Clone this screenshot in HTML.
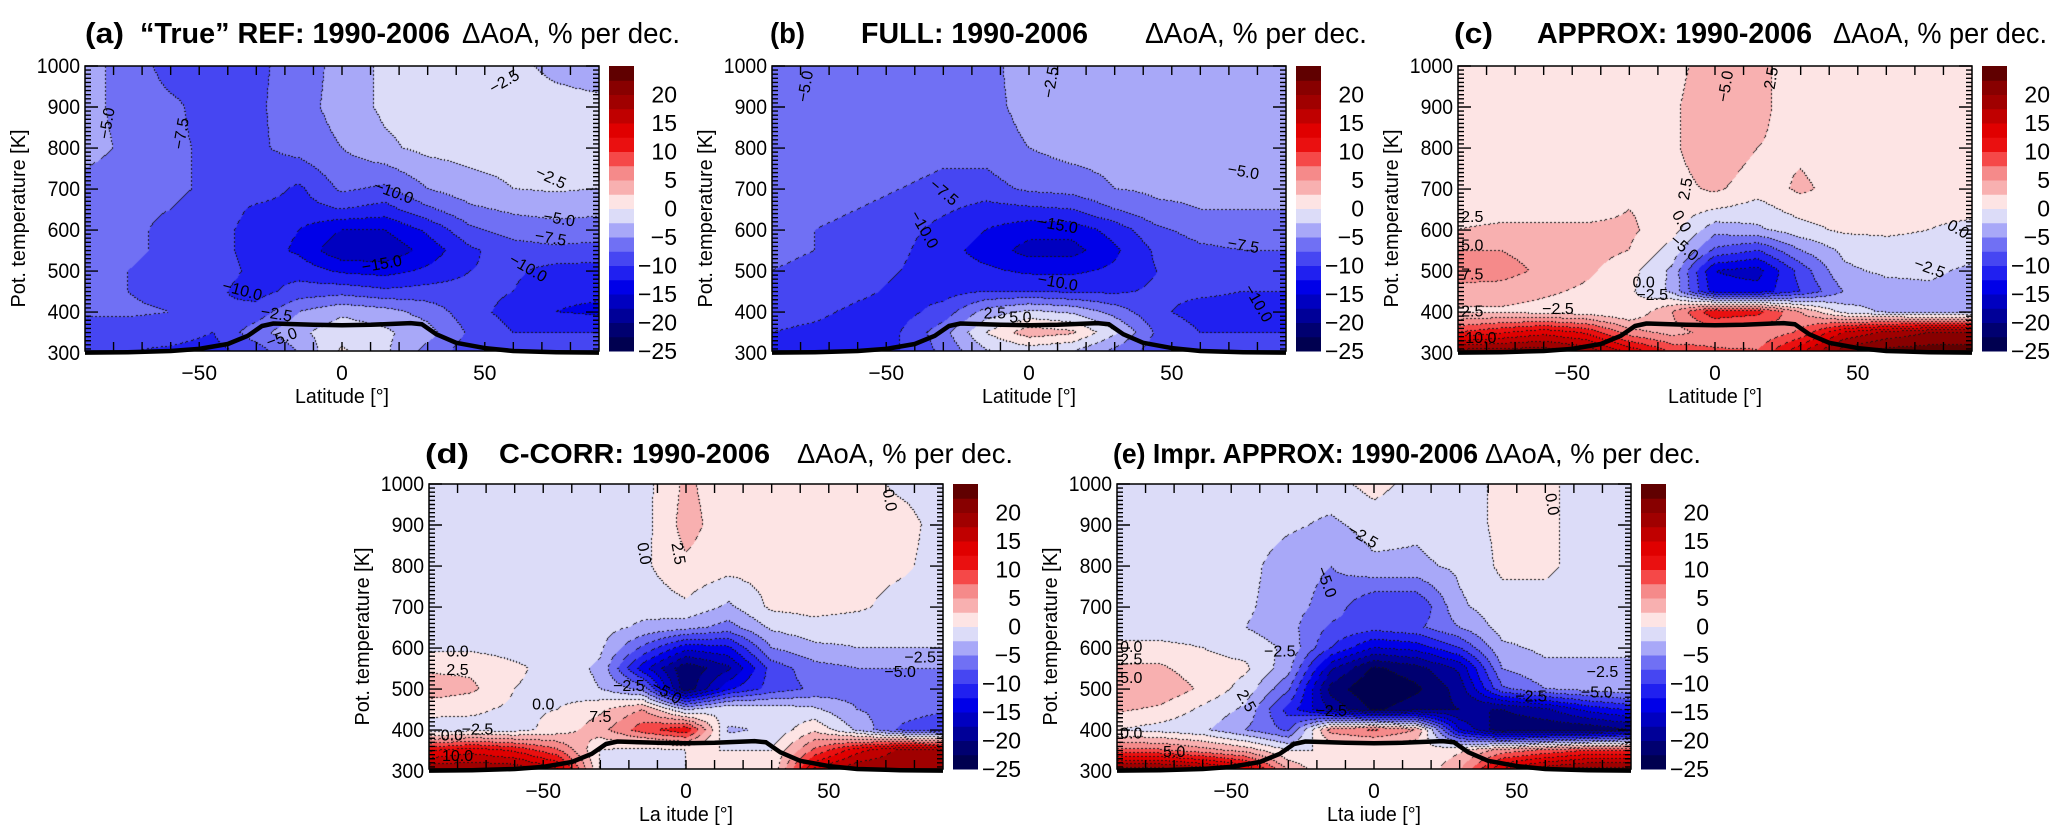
<!DOCTYPE html>
<html><head><meta charset="utf-8">
<style>
html,body{margin:0;padding:0;background:#fff;}
#wrap{position:relative;width:2067px;height:838px;overflow:hidden;background:#fff;}
canvas{position:absolute;}
svg{position:absolute;left:0;top:0;}
text{font-family:"Liberation Sans",Arial,sans-serif;fill:#000;}
</style></head>
<body>
<div id="wrap">
<svg id="ov" width="2067" height="838"></svg>
</div>
<script>
// ---------- data ----------
const lats=[-90,-75,-60,-45,-30,-15,0,15,30,45,60,75,90];
const thetas=[1000,900,800,700,650,600,550,500,450,400,350,300];
const valsA=[
[-4,-6,-8.5,-8.5,-8,-6.5,-4,-2,-1.5,-1.5,-2,-3,-3.5],
[-4,-6,-7,-8.5,-8,-6,-4,-2,-1.5,-1.5,-1.5,-1.8,-2],
[-4,-5.5,-7,-8,-8,-6.5,-5,-3,-1.8,-1.5,-1.5,-1.5,-1.5],
[-6,-6.5,-7,-8,-8.5,-10.5,-7,-8,-5,-3.5,-2.5,-2.2,-2.5],
[-6.5,-7,-7.5,-8.5,-10.5,-11,-10,-11,-8,-5.5,-4.5,-4,-4.5],
[-6.5,-7,-8,-9,-11,-12.5,-15,-15,-12,-8,-6.5,-6,-6],
[-7,-7,-8,-9,-11,-13,-17,-17,-14,-10.5,-8.5,-8,-8.5],
[-7,-7.5,-8.5,-9,-10.5,-11,-13,-13.5,-12,-10,-9.5,-11,-11],
[-7,-7.5,-8.5,-9.5,-11,-9,-8.5,-9.5,-9,-9,-10,-12,-12],
[-7,-7,-7.5,-10,-9,-5,-3,-4,-6,-9,-11,-12.5,-13],
[-9,-9,-9,-10,-6,-3,-1,-2,-4,-8,-10,-10,-10],
[-10,-10,-10.5,-11,-9,-5,0.5,-2,-6,-9,-10,-10,-10]];
const valsB=[
[-6,-5.5,-6,-6.5,-6.5,-6,-3.5,-3,-4,-4.5,-4.5,-4.5,-4.5],
[-6,-6,-6,-6.5,-6.5,-6,-4,-3,-4,-4.5,-4.5,-4.5,-4.5],
[-6,-6,-6.5,-6.5,-7,-6.5,-5,-4,-4,-4,-4.2,-4.5,-4.5],
[-6.5,-6.5,-7,-7.5,-8,-8.5,-7,-6.5,-5,-4.5,-4.5,-4.5,-4.5],
[-6.5,-7,-7.5,-8,-9.5,-11,-10.5,-10,-7.5,-5.5,-5,-5,-5],
[-7,-7.5,-8,-9,-11,-12.5,-14,-14,-11.5,-8,-6.5,-6,-6],
[-7,-7.5,-8.5,-9.5,-11.5,-13.5,-16,-16,-13,-9.5,-8,-7.5,-7.5],
[-7.5,-8,-9,-10,-11.5,-12,-13,-13,-12,-10,-9,-8,-8],
[-8,-8.5,-9.5,-10.5,-11,-10,-10,-10.5,-10.5,-9.5,-9.5,-10,-10],
[-9,-9.5,-10.5,-11,-9,-4,-2,-3,-6,-9.5,-11,-11,-11],
[-10,-10.5,-11,-10,-6,0,4,3,-2,-8,-10,-10,-10],
[-11,-11,-11,-10,-7,-3,-2,-3,-6,-9,-10,-10,-10]];
const valsC=[
[1,1,1,1,1.5,1.5,4,3,1.5,1,1,1,1],
[1,1,1,1,1.5,2,4.5,3,1.5,1,1,1,1],
[1,1,1,1,1.5,2,4.5,2.5,2,1,1,1,1],
[1,1,1,1,1.5,1.5,3,1,3,1.5,1,1,1],
[1.5,1.5,1.5,1.5,2.5,1.5,0,-1,1,1.5,1,0.5,0.5],
[2.5,3,3,3,3,1,-4,-3,-1,0.5,0.5,0,-0.5],
[5,5,4,3.5,2.5,-1,-8,-10,-5,-2,-1,-1,-1.5],
[6.5,6,4.5,3,1,-3,-15,-16,-9,-3,-2,-2,-3],
[4,4,3,2,0.5,-3,-14,-14,-10,-5,-3.5,-3,-3.5],
[2,2,1.5,1,0,5,12,11,5,-1,-3,-4,-4],
[10,12,14,12,6,4,6,5,8,15,18,20,20],
[22,22,22,20,15,10,8,8,15,22,24,24,24]];
const valsD=[
[-1,-1,-1,-1,-1,-1,3,1,1,1,1,-0.5,-1],
[-1,-1,-1,-1,-1,-1,3.5,1,1,1,1,1,-1],
[-1,-1,-1,-1,-1,-0.5,2,1,1,1,1,0.5,-1],
[-1,-1,-1,-1,-1,-1.5,-0.5,-3,0.5,1,0.5,-1,-1],
[-1,-1,-1,-1,-1.5,-3,-4,-6,-2,-1,-1.5,-1.5,-1.5],
[-0.5,-0.5,-1,-1,-2,-8,-14,-13,-5,-3,-2.5,-2.5,-2.5],
[2,2,0.5,-1,-3,-14,-22,-18,-9,-6,-5,-5,-5],
[4,3,0,-1,-2.5,-6,-22,-13,-9,-7,-6,-6,-6],
[1,0.5,-0.5,0,2,5,-3,0,-1,-2,-5,-6,-7],
[-1.5,-1,-1,1,4,9,12,-3,-2,2,-3,-8,-10],
[12,14,12,8,0,-1,0,0,0,8,14,18,18],
[20,20,20,16,0,0,0,0,0,16,20,20,20]];
const valsE=[
[-1,-1,-1,-1,-1.5,-1,1,-1,-1,0.5,0.5,-1,-1],
[-1,-1,-1,-1,-2,-3,-1.5,-2,-1,0.5,0.5,-1,-1],
[-1,-1,-1,-1.5,-4,-5,-3,-3,-2,0.5,0.5,-1,-1],
[-1,-1,-1,-2,-4,-6,-10,-10,-3,-1,-1,-1,-1],
[-1,-1,-1,-2.5,-4,-8,-9,-8,-5,-1.5,-1.5,-1,-1],
[0.5,0.5,0,-1,-3,-10,-15,-14,-10,-3,-2,-2,-2],
[3,3,1,0.5,-4,-17,-23,-21,-17,-5,-3,-3,-3],
[5,4.5,2,-1,-7,-21,-25,-23,-19,-8,-5,-4,-3],
[3,2,-0.5,-3,-11,-18,-23,-21,-20,-20,-18,-14,-12],
[0,-1,-2,-5,-8,6,8,5,-15,-22,-22,-22,-20],
[8,8,6,4,0,0,0,0,2,6,8,10,10],
[22,22,20,16,5,0,0,0,5,16,20,22,22]];
const tropLat=[-90,-75,-60,-50,-40,-33,-28,-24,-10,0,10,24,28,33,40,50,60,75,90];
const tropTheta=[301,302,305,310,322,342,366,372,369,368,369,373,370,346,325,312,305,302,301];
const levelColors=['#000050','#000070','#000098','#0000c0','#0000e8','#2020f0','#4646f2','#7070f4','#a8a8f8','#dcdcf8',
 '#fde4e4','#f8b0b0','#f58a8a','#f54848','#ea1010','#e00000','#c00000','#a00000','#880000','#600000'];
const cbTicks=[20,15,10,5,0,-5,-10,-15,-20,-25];
const yTicks=[300,400,500,600,700,800,900,1000];
const xTicks=[-50,0,50];
const labelsA=[["-5.0",-82,860,80],["-7.5",-56,835,80],["-2.5",57,960,30],["-10.0",18,690,-20],["-15.0",14,515,10],["-10.0",-35,450,-15],["-2.5",-23,393,-10],["-5.0",-21,335,20],["-2.5",73,725,-25],["-5.0",76,625,-10],["-7.5",73,578,-10],["-10.0",65,505,-30]];
const labelsB=[["-5.0",-78,950,80],["-2.5",8,960,80],["-7.5",-30,690,-40],["-10.0",-37,600,-60],["-15.0",10,610,-10],["-10.0",10,470,-10],["-5.0",75,740,-10],["-7.5",75,560,-10],["-10.0",80,420,-60],["2.5",-12,395,0],["5.0",-3,385,0]];
const labelsC=[["-5.0",4,950,80],["2.5",20,970,80],["2.5",-10,700,80],["0.0",-12,620,-60],["-5.0",-11,555,-40],["0.0",85,600,-30],["-2.5",75,505,-20],["2.5",-85,630,0],["5.0",-85,560,0],["7.5",-85,490,0],["0.0",-25,470,0],["-2.5",-22,440,0],["-2.5",-55,405,0],["2.5",-85,400,0],["10.0",-82,335,0]];
const labelsD=[["0.0",-15,830,-80],["2.5",-3,830,-80],["0.0",71,960,-80],["0.0",-80,590,0],["2.5",-80,545,0],["-2.5",-20,505,0],["-5.0",-7,490,-30],["0.0",-50,460,0],["7.5",-30,430,0],["-2.5",-73,400,0],["0.0",-82,385,0],["10.0",-80,335,0],["-2.5",82,575,0],["-5.0",75,540,0]];
const labelsE=[["-2.5",-4,870,-30],["-5.0",-17,760,-70],["0.0",62,950,-80],["0.0",-85,600,0],["2.5",-85,570,0],["5.0",-85,525,0],["-2.5",-33,590,0],["2.5",-45,470,-60],["-2.5",-15,445,0],["-2.5",55,480,0],["-2.5",80,540,0],["-5.0",78,490,0],["0.0",-85,390,0],["5.0",-70,345,0]];

// ---------- layout ----------
const panels=[
 {id:'a',x:85,y:66,vals:valsA,labels:labelsA,xl:'Latitude [°]',t:[["(a)",85,39,true],["“True” REF: 1990-2006",140,310,true],["ΔAoA, % per dec.",462,218,false]],ty:43,fs:29},
 {id:'b',x:772,y:66,vals:valsB,labels:labelsB,xl:'Latitude [°]',t:[["(b)",770,35,true],["FULL: 1990-2006",861,227,true],["ΔAoA, % per dec.",1145,222,false]],ty:43,fs:29},
 {id:'c',x:1458,y:66,vals:valsC,labels:labelsC,xl:'Latitude [°]',t:[["(c)",1454,39,true],["APPROX: 1990-2006",1537,275,true],["ΔAoA, % per dec.",1833,214,false]],ty:43,fs:29},
 {id:'d',x:429,y:484,vals:valsD,labels:labelsD,xl:'La itude [°]',t:[["(d)",425,44,true],["C-CORR: 1990-2006",499,271,true],["ΔAoA, % per dec.",797,216,false]],ty:463,fs:28},
 {id:'e',x:1117,y:484,vals:valsE,labels:labelsE,xl:'Lta iude [°]',t:[["(e) Impr. APPROX: 1990-2006",1113,365,true],["ΔAoA, % per dec.",1485,216,false]],ty:463,fs:28}
];
const W=514,H=285,TH_TOP=1000,TH_BOT=305,LAT0=-90,LAT1=90;
const NS='http://www.w3.org/2000/svg';
const ov=document.getElementById('ov');
const wrap=document.getElementById('wrap');
function el(tag,attrs,parent){const e=document.createElementNS(NS,tag);for(const k in attrs)e.setAttribute(k,attrs[k]);(parent||ov).appendChild(e);return e;}
function hex(c){return [parseInt(c.substr(1,2),16),parseInt(c.substr(3,2),16),parseInt(c.substr(5,2),16)];}
const rgb=levelColors.map(hex);

function field(vals,lat,th){
  let fj=(lat-LAT0)/15; if(fj<0)fj=0; if(fj>lats.length-1.0001)fj=lats.length-1.0001;
  const j=Math.floor(fj),u=fj-j;
  let i=0; while(i<thetas.length-2 && th<thetas[i+1]) i++;
  let v=(thetas[i]-th)/(thetas[i]-thetas[i+1]); if(v<0)v=0; if(v>1)v=1;
  const a=vals[i][j]*(1-u)+vals[i][j+1]*u, b=vals[i+1][j]*(1-u)+vals[i+1][j+1]*u;
  return a*(1-v)+b*v;
}
function bin(v){let k=Math.floor((v+25)/2.5);if(k<0)k=0;if(k>19)k=19;return k;}
function numLen(s,px){return s.length*px;}

panels.forEach(p=>{
  const sx=lat=>p.x+(lat-LAT0)/(LAT1-LAT0)*W;
  const sy=th=>p.y+(TH_TOP-th)/(TH_TOP-TH_BOT)*H;
  const cv=document.createElement('canvas');
  cv.width=W;cv.height=H;cv.style.left=p.x+'px';cv.style.top=p.y+'px';
  
  
  wrap.insertBefore(cv,ov);
  const ctx=cv.getContext('2d');const img=ctx.createImageData(W,H);
  const B=new Uint8Array(W*H);
  for(let y=0;y<H;y++){const th=TH_TOP-(y+0.5)/H*(TH_TOP-TH_BOT);
    for(let x=0;x<W;x++){const lat=LAT0+(x+0.5)/W*(LAT1-LAT0);B[y*W+x]=bin(field(p.vals,lat,th));}}
  for(let y=0;y<H;y++)for(let x=0;x<W;x++){
    const k=B[y*W+x];let c=rgb[k];
    const edge=(x<W-1&&B[y*W+x+1]!==k)||(y<H-1&&B[(y+1)*W+x]!==k);
    if(edge && ((x+y)%4)<2) c=[20,20,20];
    const o=(y*W+x)*4;img.data[o]=c[0];img.data[o+1]=c[1];img.data[o+2]=c[2];img.data[o+3]=255;}
  ctx.putImageData(img,0,0);
  const g=el('g',{});
  
  
  p.labels.forEach(L=>{
    const t=el('text',{x:sx(L[1]),y:sy(L[2]),'font-size':16,'text-anchor':'middle','dominant-baseline':'middle',transform:`rotate(${-L[3]} ${sx(L[1])} ${sy(L[2])})`},g);
    t.textContent=L[0].replace('-','−');
    
    
  });
  let d='';tropLat.forEach((la,i)=>{d+=(i?'L':'M')+sx(la).toFixed(1)+' '+sy(tropTheta[i]).toFixed(1);});
  const tp=el('path',{d:d,fill:'none',stroke:'#000','stroke-width':4.5,'stroke-linejoin':'round'},g);
  
  
  const fr=el('rect',{x:p.x,y:p.y,width:W,height:H,fill:'none',stroke:'#000','stroke-width':1.5},g);
  
  
  let td='';
  for(let la=-80;la<=80;la+=10){const X=sx(la);td+=`M${X} ${p.y}v9M${X} ${p.y+H}v-9`;}
  for(let th=310;th<=1000;th+=10){const Y=sy(th);const len=(th%100===0)?13:6;td+=`M${p.x} ${Y}h${len}M${p.x+W} ${Y}h${-len}`;}
  const tk=el('path',{d:td,stroke:'#000','stroke-width':1.4,fill:'none'},g);
  
  
  yTicks.forEach(v=>{const s=String(v);const t=el('text',{x:p.x-5,y:sy(v)+7,'font-size':21,'text-anchor':'end',textLength:s.length*10.8,lengthAdjust:'spacingAndGlyphs'},g);t.textContent=s;
    });
  xTicks.forEach(v=>{const s=String(v).replace('-','−');const t=el('text',{x:sx(v),y:p.y+H+29,'font-size':21,'text-anchor':'middle'},g);t.textContent=s;
    });
  const xl=el('text',{x:p.x+W/2,y:p.y+H+52,'font-size':20,'text-anchor':'middle',textLength:94,lengthAdjust:'spacingAndGlyphs'},g);xl.textContent=p.xl;
  
  const cy=p.y+H/2+10;
  const yl=el('text',{x:p.x-60,y:cy,'font-size':20,'text-anchor':'middle',transform:`rotate(-90 ${p.x-60} ${cy})`,textLength:178,lengthAdjust:'spacingAndGlyphs'},g);
  yl.textContent='Pot. temperature [K]';
  
  const cbx=p.x+W+10,cbw=25;
  const cbg=el('g',{},g);
  
  
  const cby=v=>p.y+(25-v)/50*H;
  levelColors.forEach((c,k)=>{const v0=-25+k*2.5;
    const r=el('rect',{x:cbx,y:cby(v0+2.5),width:cbw,height:cby(v0)-cby(v0+2.5)+0.5,fill:c},cbg);
    });
  cbTicks.forEach(v=>{const t=el('text',{x:cbx+cbw+43,y:cby(v)+8,'font-size':23,'text-anchor':'end'},cbg);t.textContent=String(v).replace('-','−');
    });
  p.t.forEach(T=>{const t=el('text',{x:T[1],y:p.ty,'font-size':p.fs,'font-weight':T[3]?'bold':'normal',textLength:T[2],lengthAdjust:'spacingAndGlyphs'},g);
    t.textContent=T[0];});
});
</script>
</body></html>
